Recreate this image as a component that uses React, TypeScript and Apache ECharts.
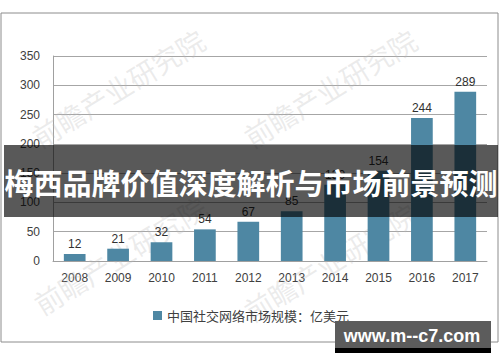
import React, { useEffect, useRef } from "react";
import * as echarts from "echarts";

const years = ["2008", "2009", "2010", "2011", "2012", "2013", "2014", "2015", "2016", "2017"];
const marketSize = [12, 21, 32, 54, 67, 85, 130, 154, 244, 289];
const yTicks = { min: 0, max: 350, interval: 50 };
const legendName = "中国社交网络市场规模：亿美元";
const bannerText = "梅西品牌价值深度解析与市场前景预测";
const siteText = "www.m--c7.com";
const watermark = "前瞻产业研究院";

export default function App() {
  const ref = useRef<HTMLDivElement>(null);
  useEffect(() => {
    document.body.style.margin = "0";
    if (!ref.current) return;
    const chart = echarts.init(ref.current, undefined, { renderer: "svg" });
    const wm = (x: number, y: number) => ({
      type: "text",
      x,
      y,
      rotation: 0.55,
      z: 1,
      silent: true,
      style: {
        text: watermark,
        fill: "rgba(185,185,185,0.28)",
        font: "28px 'Noto Sans CJK SC'",
        align: "center",
        verticalAlign: "middle",
      },
    });
    chart.setOption({
      animation: false,
      backgroundColor: "#ffffff",
      textStyle: { fontFamily: "'Liberation Sans', 'Noto Sans CJK SC', sans-serif" },
      grid: { left: 53, right: 13, top: 56, bottom: 101, containLabel: false },
      xAxis: {
        type: "category",
        data: years,
        axisLine: { show: true, lineStyle: { color: "#a0a0a0", width: 1 } },
        axisTick: { show: false },
        axisLabel: { color: "#404040", fontSize: 12, margin: 11 },
      },
      yAxis: {
        type: "value",
        min: yTicks.min,
        max: yTicks.max,
        interval: yTicks.interval,
        axisLine: { show: true, lineStyle: { color: "#a0a0a0", width: 1 } },
        axisTick: { show: false },
        axisLabel: { color: "#404040", fontSize: 12, margin: 13 },
        splitLine: { lineStyle: { color: "#a6a6a6", width: 1 } },
      },
      legend: {
        show: true,
        left: 148,
        top: 304,
        itemWidth: 9,
        itemHeight: 9,
        itemGap: 4,
        icon: "rect",
        textStyle: { color: "#404040", fontSize: 13, fontFamily: "'Noto Sans CJK SC', sans-serif" },
        data: [legendName],
      },
      series: [
        {
          name: legendName,
          type: "bar",
          data: marketSize,
          barWidth: "50%",
          itemStyle: { color: "#4e87a3" },
          label: {
            show: true,
            position: "top",
            distance: 4,
            color: "#303030",
            fontSize: 12,
          },
          z: 3,
        },
      ],
      graphic: [
        {
          type: "rect",
          shape: { x: 1, y: 13, width: 497, height: 329 },
          style: { fill: "none", stroke: "#8c8c8c", lineWidth: 1 },
          z: 1,
          silent: true,
        },
        wm(118, 88),
        wm(330, 88),
        wm(120, 255),
        wm(330, 262),
        {
          type: "rect",
          shape: { x: 4, y: 145, width: 494, height: 72 },
          style: { fill: "rgba(0,0,0,0.65)" },
          z: 100,
          silent: true,
        },
        {
          type: "text",
          x: 251,
          y: 182,
          z: 101,
          style: {
            text: bannerText,
            fill: "#ffffff",
            font: "bold 29px 'Noto Sans CJK SC'",
            align: "center",
            verticalAlign: "middle",
          },
        },
        {
          type: "rect",
          shape: { x: 335, y: 321, width: 156, height: 27 },
          style: { fill: "#5c5c5c" },
          z: 100,
        },
        {
          type: "rect",
          shape: { x: 335, y: 348, width: 156, height: 5 },
          style: { fill: "#000000" },
          z: 100,
        },
        {
          type: "text",
          x: 412,
          y: 336,
          z: 101,
          style: {
            text: siteText,
            fill: "#ffffff",
            font: "bold 18px 'Liberation Sans'",
            align: "center",
            verticalAlign: "middle",
          },
        },
      ],
    });
    return () => chart.dispose();
  }, []);
  return <div ref={ref} style={{ width: 500, height: 362 }} />;
}
